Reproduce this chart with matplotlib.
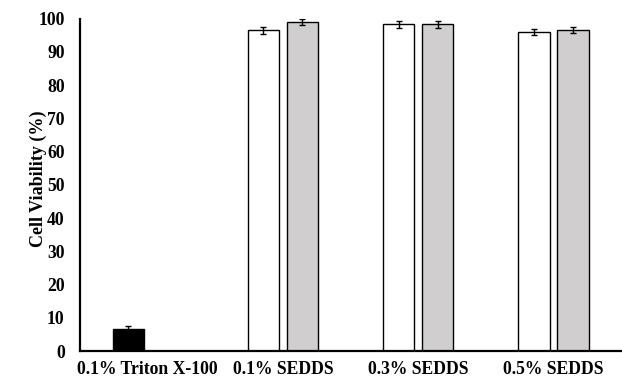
import numpy as np
import matplotlib
matplotlib.use("Agg")
import matplotlib.pyplot as plt

plt.rcParams["font.family"] = ["Liberation Serif", "DejaVu Serif"]
plt.rcParams["font.weight"] = "bold"

groups = ["0.1% Triton X-100", "0.1% SEDDS", "0.3% SEDDS", "0.5% SEDDS"]
# first series (black for the Triton control, white for SEDDS), second series grey
first_vals = [6.6, 96.4, 98.2, 96.0]
first_err = [0.8, 1.0, 1.0, 0.9]
second_vals = [np.nan, 98.9, 98.2, 96.5]
second_err = [np.nan, 1.0, 1.0, 1.0]
first_colors = ["black", "white", "white", "white"]

fig = plt.figure(figsize=(6.22, 3.80), dpi=100)
ax = fig.add_axes([0.1286, 0.0763, 0.870, 0.8750])

x = np.arange(len(groups))
w = 0.23
off = 0.144

ax.bar(x - off, first_vals, w, color=first_colors, edgecolor="black", linewidth=1.0, zorder=2)
ax.bar(x + off, second_vals, w, color="#d0cecf", edgecolor="black", linewidth=1.0, zorder=2)
ax.errorbar(x - off, first_vals, yerr=first_err, fmt="none", ecolor="black",
            elinewidth=1.0, capsize=2.3, capthick=1.0, zorder=3)
ax.errorbar(x + off, second_vals, yerr=second_err, fmt="none", ecolor="black",
            elinewidth=1.0, capsize=2.3, capthick=1.0, zorder=3)

ax.set_xlim(-0.5, len(groups) - 0.5)
ax.set_ylim(0, 100)
ax.set_yticks(range(0, 101, 10))
ax.set_xticks(x)
ax.set_xticklabels(groups, fontsize=12.7, fontweight="bold")
ax.tick_params(axis="y", labelsize=12.7, length=0, pad=11)
ax.tick_params(axis="x", length=0, pad=7)
for lab in ax.get_yticklabels():
    lab.set_fontweight("bold")

# y title sits close to the tick numbers, so place it by hand
fig.text(0.061, 0.529, "Cell Viability (%)", rotation=90, ha="center", va="center",
         fontsize=13, fontweight="bold")

for side in ["top", "right"]:
    ax.spines[side].set_visible(False)
ax.spines["left"].set_linewidth(1.6)
ax.spines["bottom"].set_linewidth(1.6)

fig.savefig("out.png", dpi=100)
